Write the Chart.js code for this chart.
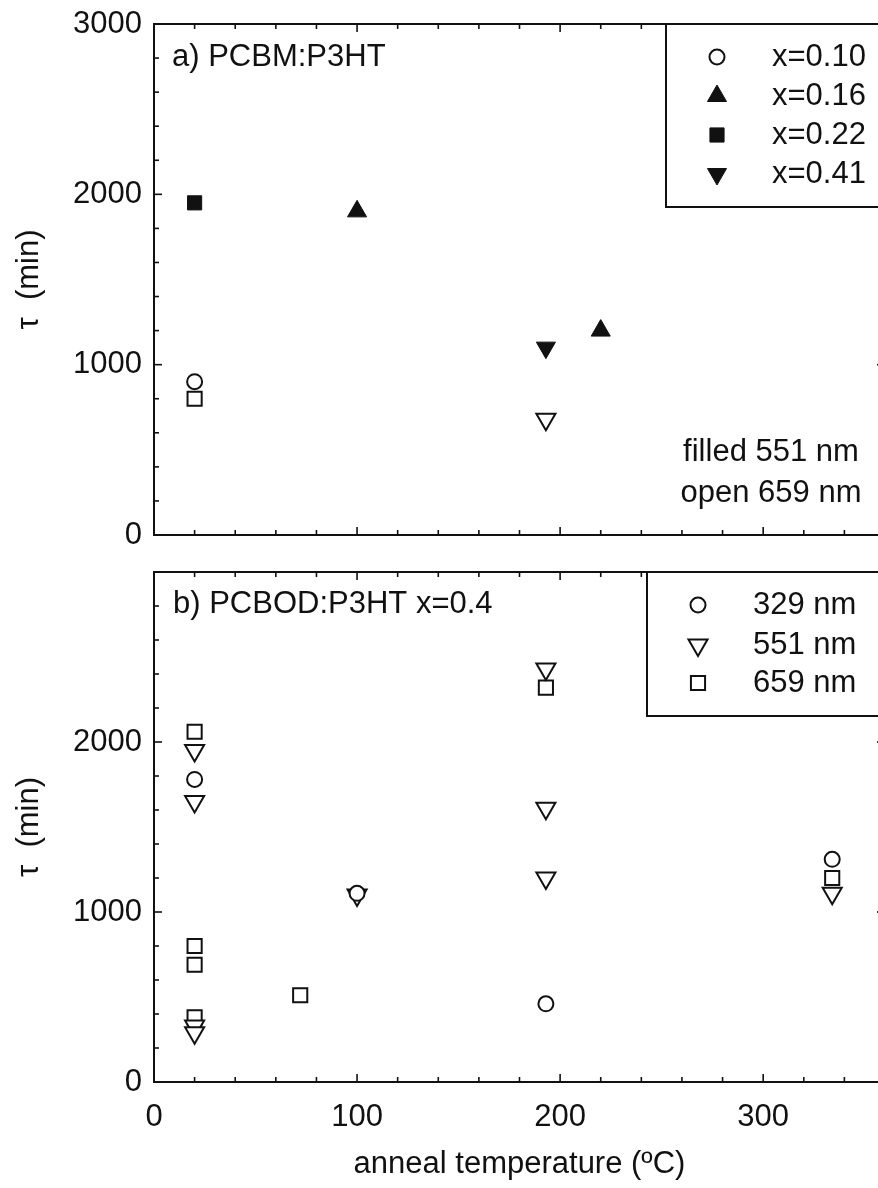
<!DOCTYPE html>
<html>
<head>
<meta charset="utf-8">
<script src="https://cdn.jsdelivr.net/npm/chart.js@4.4.0/dist/chart.umd.min.js"></script>
<style>
  html, body { margin: 0; padding: 0; background: #fff; overflow: hidden; }
  body { width: 878px; height: 1188px; position: relative; }
  .panel { position: absolute; left: 0; width: 900px; }
  #top { top: 0; height: 560px; }
  #bottom { top: 545px; height: 643px; }
</style>
</head>
<body>
<div class="panel" id="top"><canvas id="chartA"></canvas></div>
<div class="panel" id="bottom"><canvas id="chartB"></canvas></div>
<script>
// a) PCBM:P3HT  (filled = 551 nm, open = 659 nm)
const a010open_T = [20];        const a010open_tau = [900];
const a016fill_T = [100, 220];  const a016fill_tau = [1900, 1200];
const a022fill_T = [20];        const a022fill_tau = [1950];
const a022open_T = [20];        const a022open_tau = [800];
const a041fill_T = [193];       const a041fill_tau = [1100];
const a041open_T = [193];       const a041open_tau = [680];

// b) PCBOD:P3HT x=0.4
const b329_T = [20, 100, 193, 334];
const b329_tau = [1780, 1110, 460, 1310];
const b551_T = [20, 20, 20, 20, 100, 193, 193, 193, 334];
const b551_tau = [1950, 1650, 330, 290, 1100, 2430, 1610, 1200, 1110];
const b659_T = [20, 20, 20, 20, 72, 193, 334];
const b659_tau = [2060, 800, 690, 380, 510, 2320, 1200];

const yTicks = [0, 1000, 2000, 3000];
const xTicks = [0, 100, 200, 300];

const FONT = '"Liberation Sans", Arial, sans-serif';
const INK = '#111';
const radii = { circle: 7.5, rect: 10, triangle: 11 };

function pts(xs, ys) { return xs.map((x, i) => ({ x: x, y: ys[i] })); }

function series(label, xs, ys, style, filled, down, inLegend) {
  return {
    label: label,
    data: pts(xs, ys),
    showLine: false,
    pointStyle: style,
    pointRadius: radii[style],
    pointRotation: down ? 180 : 0,
    pointBackgroundColor: filled ? INK : '#fff',
    pointBorderColor: INK,
    pointBorderWidth: filled ? 1 : 2,
    inLegend: inLegend
  };
}

const panelDeco = {
  id: 'panelDeco',
  afterDraw(chart, args, o) {
    const { ctx, chartArea: a, scales: { x, y } } = chart;
    const seg = (x1, y1, x2, y2) => { ctx.beginPath(); ctx.moveTo(x1, y1); ctx.lineTo(x2, y2); ctx.stroke(); };
    ctx.save();
    ctx.strokeStyle = INK;
    ctx.lineWidth = 1.6;
    for (let v = 20; v < x.max; v += 20) {
      const px = x.getPixelForValue(v);
      const len = v % 100 === 0 ? 8 : 5;
      seg(px, a.bottom, px, a.bottom - len);
      seg(px, a.top, px, a.top + len);
    }
    for (let v = 200; v < y.max; v += 200) {
      const py = y.getPixelForValue(v);
      const len = v % 1000 === 0 ? 8 : 5;
      seg(a.left, py, a.left + len, py);
      seg(a.right, py, a.right - len, py);
    }
    ctx.lineWidth = 2;
    ctx.strokeRect(a.left, a.top, a.right - a.left, a.bottom - a.top);

    // legend box
    const lb = o.legend;
    ctx.fillStyle = '#fff';
    ctx.fillRect(lb.left, a.top, a.right - lb.left, lb.bottom - a.top);
    ctx.strokeRect(lb.left, a.top, a.right - lb.left, lb.bottom - a.top);
    ctx.font = '31px ' + FONT;
    ctx.textBaseline = 'middle';
    ctx.textAlign = 'left';
    const entries = chart.data.datasets.filter(d => d.inLegend);
    entries.forEach((d, i) => {
      const ry = lb.rows[i];
      ctx.fillStyle = d.pointBackgroundColor;
      ctx.strokeStyle = INK;
      ctx.lineWidth = d.pointBorderWidth;
      Chart.helpers.drawPoint(ctx, {
        pointStyle: d.pointStyle, rotation: d.pointRotation,
        radius: d.pointRadius, borderWidth: d.pointBorderWidth
      }, lb.markerX, ry);
      ctx.fillStyle = INK;
      ctx.fillText(d.label, lb.textX, ry);
    });

    // panel label and notes
    ctx.fillStyle = INK;
    ctx.fillText(o.label.text, o.label.x, o.label.y);
    ctx.textAlign = 'center';
    (o.notes || []).forEach(n => ctx.fillText(n.text, n.x, n.y));
    ctx.restore();
  }
};

function noPad(s) { s.paddingTop = 0; s.paddingBottom = 0; s.paddingLeft = 0; s.paddingRight = 0; }

function yScale(hide3000) {
  return {
    min: 0, max: 3000,
    afterBuildTicks: s => { s.ticks = yTicks.map(v => ({ value: v })); },
    ticks: {
      color: INK, padding: 12, font: { family: FONT, size: 31 },
      callback: v => (hide3000 && v === 3000) ? '' : v
    },
    grid: { display: false, drawTicks: false },
    border: { display: false },
    title: { display: true, text: 'τ  (min)', color: INK, font: { family: FONT, size: 31 }, padding: { top: 11 } },
    afterFit: s => { s.width = 154; noPad(s); }
  };
}

const common = {
  type: 'scatter',
  plugins: [panelDeco]
};

new Chart(document.getElementById('chartA'), {
  ...common,
  data: {
    datasets: [
      series('x=0.10', a010open_T, a010open_tau, 'circle', false, false, true),
      series('x=0.16', a016fill_T, a016fill_tau, 'triangle', true, false, true),
      series('x=0.22', a022fill_T, a022fill_tau, 'rect', true, false, true),
      series('x=0.41', a041fill_T, a041fill_tau, 'triangle', true, true, true),
      series('x=0.22 open', a022open_T, a022open_tau, 'rect', false, false, false),
      series('x=0.41 open', a041open_T, a041open_tau, 'triangle', false, true, false)
    ]
  },
  options: {
    responsive: true, maintainAspectRatio: false, animation: false,
    layout: { padding: { top: 24, right: 15, left: 0, bottom: 0 }, autoPadding: false },
    scales: {
      x: {
        type: 'linear', min: 0, max: 360,
        ticks: { display: false },
        grid: { display: false, drawTicks: false },
        border: { display: false },
        afterFit: s => { s.height = 25; noPad(s); }
      },
      y: yScale(false)
    },
    plugins: {
      legend: { display: false },
      tooltip: { enabled: false },
      panelDeco: {
        label: { text: 'a) PCBM:P3HT', x: 172, y: 57 },
        legend: { left: 666, bottom: 207, markerX: 717, textX: 772, rows: [57, 96, 135, 174] },
        notes: [
          { text: 'filled 551 nm', x: 771, y: 452 },
          { text: 'open 659 nm', x: 771, y: 493 }
        ]
      }
    }
  }
});

new Chart(document.getElementById('chartB'), {
  ...common,
  data: {
    datasets: [
      series('329 nm', b329_T, b329_tau, 'circle', false, false, true),
      series('551 nm', b551_T, b551_tau, 'triangle', false, true, true),
      series('659 nm', b659_T, b659_tau, 'rect', false, false, true)
    ]
  },
  options: {
    responsive: true, maintainAspectRatio: false, animation: false,
    layout: { padding: { top: 27, right: 15, left: 0, bottom: 0 }, autoPadding: false },
    scales: {
      x: {
        type: 'linear', min: 0, max: 360,
        afterBuildTicks: s => { s.ticks = xTicks.map(v => ({ value: v })); },
        ticks: { color: INK, padding: 17, font: { family: FONT, size: 31 } },
        grid: { display: false, drawTicks: false },
        border: { display: false },
        title: { display: true, text: 'anneal temperature (ºC)', color: INK, font: { family: FONT, size: 31 }, padding: { top: 0, bottom: 5 } },
        afterFit: s => { s.height = 106; noPad(s); }
      },
      y: yScale(true)
    },
    plugins: {
      legend: { display: false },
      tooltip: { enabled: false },
      panelDeco: {
        label: { text: 'b) PCBOD:P3HT x=0.4', x: 173, y: 59 },
        legend: { left: 647, bottom: 171, markerX: 698, textX: 753, rows: [60, 100, 138] }
      }
    }
  }
});
</script>
</body>
</html>
